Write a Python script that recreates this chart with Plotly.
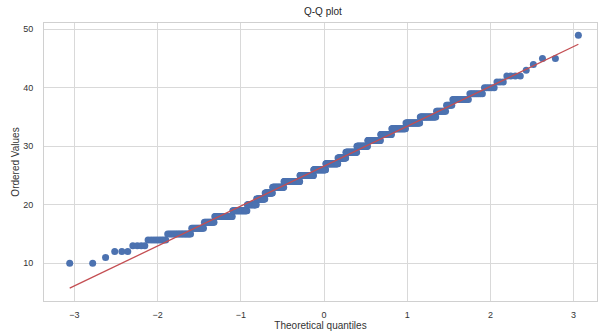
import numpy as np
import plotly.graph_objects as go
from statistics import NormalDist

# Observed integer values and how many times each occurs (read from the step lengths)
values = [10, 11, 12, 13, 14, 15, 16, 17, 18, 19, 20, 21, 22, 23, 24, 25, 26, 27, 28, 29,
          30, 31, 32, 33, 34, 35, 36, 37, 38, 39, 40, 41, 42, 43, 44, 45, 49]
counts = [2, 1, 3, 4, 8, 16, 12, 12, 26, 26, 19, 19, 18, 29, 44, 40, 36, 36, 23, 31,
          29, 32, 25, 28, 24, 22, 11, 6, 13, 8, 5, 3, 4, 1, 1, 2, 1]

x_ticks = [-3, -2, -1, 0, 1, 2, 3]
y_ticks = [10, 20, 30, 40, 50]

# Sorted sample
ordered = np.repeat(values, counts).astype(float)
n = len(ordered)

# Filliben's order-statistic medians (as in scipy.stats.probplot)
m = np.empty(n)
m[-1] = 0.5 ** (1.0 / n)
m[0] = 1 - m[-1]
i = np.arange(2, n)
m[1:-1] = (i - 0.3175) / (n + 0.365)
nd = NormalDist()
osm = np.array([nd.inv_cdf(p) for p in m])

slope, intercept = np.polyfit(osm, ordered, 1)
line_x = np.array([osm[0], osm[-1]])
line_y = slope * line_x + intercept

fig = go.Figure()
fig.add_trace(go.Scatter(x=osm, y=ordered, mode="markers",
                         marker=dict(color="#4C72B0", size=7, line=dict(width=0)),
                         showlegend=False))
fig.add_trace(go.Scatter(x=line_x, y=line_y, mode="lines",
                         line=dict(color="#C44E52", width=1.3),
                         showlegend=False))

font_family = "Liberation Sans, Arial, sans-serif"
fig.update_layout(
    width=598, height=331,
    margin=dict(l=44, r=1, t=23, b=30),
    paper_bgcolor="white", plot_bgcolor="white",
    font=dict(family=font_family, size=9, color="#333333"),
    title=dict(text="Q-Q plot", x=0.54, xanchor="center", y=0.965, yanchor="middle",
               font=dict(size=10, color="#262626")),
)
fig.update_xaxes(range=[-3.366, 3.281], tickvals=x_ticks,
                 showgrid=True, gridcolor="#d9d9d9", gridwidth=1,
                 zeroline=False, showline=True, linecolor="#d0d0d0", linewidth=1, mirror=True,
                 ticks="", ticklabelstandoff=5,
                 title=dict(text="Theoretical quantiles", font=dict(size=10, color="#333333"), standoff=4))
fig.update_yaxes(range=[3.56, 51.08], tickvals=y_ticks,
                 showgrid=True, gridcolor="#d9d9d9", gridwidth=1,
                 zeroline=False, showline=True, linecolor="#d0d0d0", linewidth=1, mirror=True,
                 ticks="", ticklabelstandoff=8,
                 title=dict(text="Ordered Values", font=dict(size=10, color="#333333"), standoff=1))

fig.write_html("out.html")
